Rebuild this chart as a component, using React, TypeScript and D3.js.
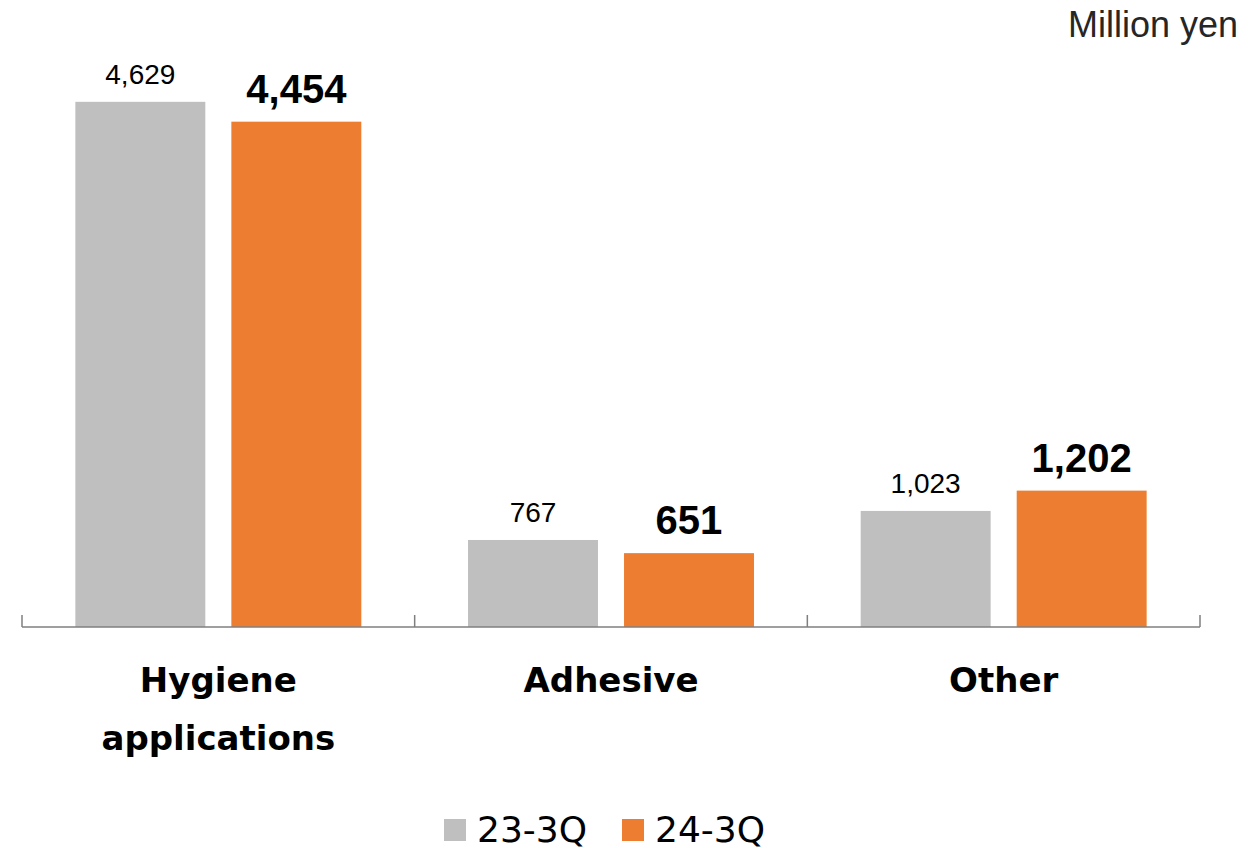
import React, { useEffect, useRef } from "react";
import * as d3 from "d3";

const categories = ["Hygiene applications", "Adhesive", "Other"];
const categoryLines = [["Hygiene", "applications"], ["Adhesive"], ["Other"]];
const seriesNames = ["23-3Q", "24-3Q"];
const values2023 = [4629, 767, 1023];
const values2024 = [4454, 651, 1202];
const colors = ["#BFBFBF", "#ED7D31"];

const W = 1258;
const H = 848;

const App: React.FC = () => {
  const svgRef = useRef<SVGSVGElement | null>(null);

  useEffect(() => {
    if (!svgRef.current) return;
    const svg = d3.select(svgRef.current);
    svg.selectAll("*").remove();

    const left = 22;
    const right = 1200;
    const baseline = 627;

    const x0 = d3.scaleBand<string>().domain(categories).range([left, right]).padding(0);
    const x1 = d3
      .scaleBand<string>()
      .domain(seriesNames)
      .range([0, x0.bandwidth()])
      .paddingInner(0.167)
      .paddingOuter(0.342);
    const y = d3.scaleLinear().domain([0, 5500]).range([baseline, 3]);

    const series = [values2023, values2024];

    const groups = svg
      .append("g")
      .selectAll("g")
      .data(categories)
      .join("g")
      .attr("transform", (d) => `translate(${x0(d)},0)`);

    seriesNames.forEach((name, si) => {
      groups
        .append("rect")
        .attr("x", x1(name) as number)
        .attr("width", x1.bandwidth())
        .attr("y", (_, i) => y(series[si][i]))
        .attr("height", (_, i) => baseline - y(series[si][i]))
        .attr("fill", colors[si]);

      groups
        .append("text")
        .attr("x", (x1(name) as number) + x1.bandwidth() / 2)
        .attr("y", (_, i) => y(series[si][i]) - (si === 0 ? 18 : 19))
        .attr("text-anchor", "middle")
        .attr("font-family", "'Liberation Sans', Arial, sans-serif")
        .attr("font-size", si === 0 ? 28 : 40)
        .attr("font-weight", si === 0 ? "normal" : "bold")
        .attr("fill", "#000")
        .text((_, i) => d3.format(",")(series[si][i]));
    });

    // axis line with upward ticks at band boundaries
    const axis = svg.append("g").attr("stroke", "#7f7f7f").attr("stroke-width", 1.5);
    axis
      .append("line")
      .attr("x1", left)
      .attr("x2", right)
      .attr("y1", baseline)
      .attr("y2", baseline);
    const tickXs = [...categories.map((c) => x0(c) as number), right];
    axis
      .selectAll("line.tick")
      .data(tickXs)
      .join("line")
      .attr("class", "tick")
      .attr("x1", (d) => d)
      .attr("x2", (d) => d)
      .attr("y1", baseline - 12)
      .attr("y2", baseline);

    // category labels
    const catText = svg
      .append("g")
      .selectAll("text")
      .data(categories)
      .join("text")
      .attr("x", (d) => (x0(d) as number) + x0.bandwidth() / 2)
      .attr("y", 692)
      .attr("text-anchor", "middle")
      .attr("font-family", "'DejaVu Sans', Verdana, sans-serif")
      .attr("font-weight", "bold")
      .attr("font-size", 34)
      .attr("fill", "#000");
    catText
      .selectAll("tspan")
      .data((_, i) => categoryLines[i])
      .join("tspan")
      .attr("x", function () {
        return (this.parentNode as SVGTextElement).getAttribute("x");
      })
      .attr("dy", (_, i) => (i === 0 ? 0 : 58))
      .text((d) => d);

    // unit label
    svg
      .append("text")
      .attr("x", 1238)
      .attr("y", 37)
      .attr("text-anchor", "end")
      .attr("font-family", "'Liberation Sans', Arial, sans-serif")
      .attr("font-size", 36)
      .attr("fill", "#262626")
      .text("Million yen");

    // legend
    const legendX = [444, 622];
    const legend = svg
      .append("g")
      .selectAll("g")
      .data(seriesNames)
      .join("g")
      .attr("transform", (_, i) => `translate(${legendX[i]},0)`);
    legend
      .append("rect")
      .attr("x", 0)
      .attr("y", 819)
      .attr("width", 22)
      .attr("height", 22)
      .attr("fill", (_, i) => colors[i]);
    legend
      .append("text")
      .attr("x", 33)
      .attr("y", 842)
      .attr("font-family", "'DejaVu Sans', Verdana, sans-serif")
      .attr("font-size", 36)
      .attr("fill", "#000")
      .text((d) => d);
  }, []);

  return (
    <svg
      ref={svgRef}
      width={W}
      height={H}
      style={{ position: "absolute", left: 0, top: 0, background: "#fff" }}
    ></svg>
  );
};

export default App;
